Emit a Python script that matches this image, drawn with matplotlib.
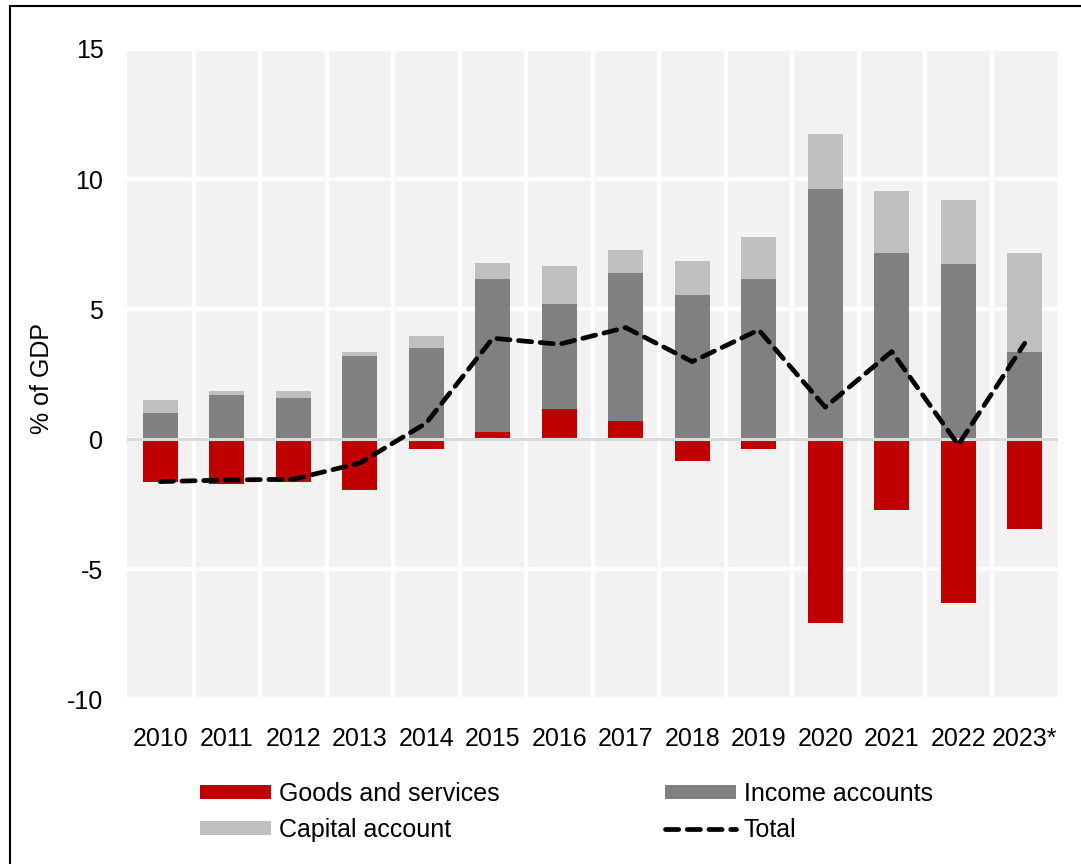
import numpy as np
import matplotlib
matplotlib.use("Agg")
import matplotlib.pyplot as plt
from matplotlib.lines import Line2D

plt.rcParams['font.family'] = ['Liberation Sans', 'DejaVu Sans']
plt.rcParams['axes.unicode_minus'] = False

# Balance components, % of GDP
years = ['2010', '2011', '2012', '2013', '2014', '2015', '2016',
         '2017', '2018', '2019', '2020', '2021', '2022', '2023*']
goods = [-1.65, -1.72, -1.65, -1.96, -0.37, 0.29, 1.17,
         0.70, -0.83, -0.37, -7.05, -2.73, -6.28, -3.45]
income = [1.00, 1.69, 1.58, 3.18, 3.52, 5.86, 4.02,
          5.68, 5.55, 6.15, 9.63, 7.15, 6.73, 3.35]
capital = [0.51, 0.18, 0.29, 0.17, 0.43, 0.64, 1.48,
           0.89, 1.30, 1.64, 2.12, 2.41, 2.47, 3.79]
total = [-1.63, -1.57, -1.54, -0.92, 0.62, 3.88, 3.65,
         4.29, 2.98, 4.20, 1.23, 3.37, -0.22, 3.69]

RED = '#c00000'
DARK = '#808080'
LIGHT = '#bfbfbf'


def plot_balance():
    fig = plt.figure(figsize=(10.81, 8.64), dpi=100)
    ax = fig.add_axes([127 / 1081, 1 - 699.3 / 864, 931 / 1081, 650.3 / 864])

    x = np.arange(len(years))
    g = np.array(goods)
    inc = np.array(income)
    cap = np.array(capital)
    base = np.clip(g, 0, None)

    w = 0.52
    ax.bar(x, g, w, color=RED, label='Goods and services', zorder=2)
    ax.bar(x, inc, w, bottom=base, color=DARK, label='Income accounts', zorder=2)
    ax.bar(x, cap, w, bottom=base + inc, color=LIGHT, label='Capital account', zorder=2)
    ax.axhline(0, color='#d9d9d9', lw=2.2, zorder=3)
    ax.plot(x, total, color='black', lw=3.4, linestyle=(0, (2.8, 1.8)),
            dash_capstyle='round', label='Total', zorder=4)

    ax.set_facecolor('#f2f2f2')
    ax.set_xlim(-0.5, len(years) - 0.5)
    ax.set_ylim(-10, 15)
    ax.set_yticks(range(-10, 16, 5))
    ax.set_xticks(x)
    ax.set_xticklabels(years)
    ax.set_xticks(np.arange(0.5, len(years) - 1), minor=True)
    ax.set_axisbelow(True)
    ax.yaxis.grid(True, color='white', lw=3)
    ax.xaxis.grid(True, which='minor', color='white', lw=3)
    ax.tick_params(axis='both', which='both', length=0, labelsize=18)
    ax.tick_params(axis='y', pad=17)
    ax.tick_params(axis='x', pad=20)
    for s in ax.spines.values():
        s.set_visible(False)

    fig.text(42 / 1081, 1 - 378 / 864, '% of GDP', rotation=90,
             ha='center', va='center', fontsize=18)

    h, l = ax.get_legend_handles_labels()
    order = [1, 3, 2, 0]
    fig.legend([h[i] for i in order], [l[i] for i in order],
               loc='upper left', bbox_to_anchor=(200 / 1081, 1 - 782 / 864),
               ncol=2, frameon=False, fontsize=18, borderpad=0, borderaxespad=0,
               handlelength=2.84, handleheight=0.52, handletextpad=0.32,
               columnspacing=6.6, labelspacing=0.48)

    # frame lines along the top and left edges
    fig.add_artist(Line2D([9.7 / 1081, 9.7 / 1081], [0, 1 - 6 / 864],
                          color='black', lw=1.5, transform=fig.transFigure))
    fig.add_artist(Line2D([9.7 / 1081, 1], [1 - 6 / 864, 1 - 6 / 864],
                          color='black', lw=1.5, transform=fig.transFigure))

    fig.savefig('out.png', dpi=100)


if __name__ == '__main__':
    plot_balance()
